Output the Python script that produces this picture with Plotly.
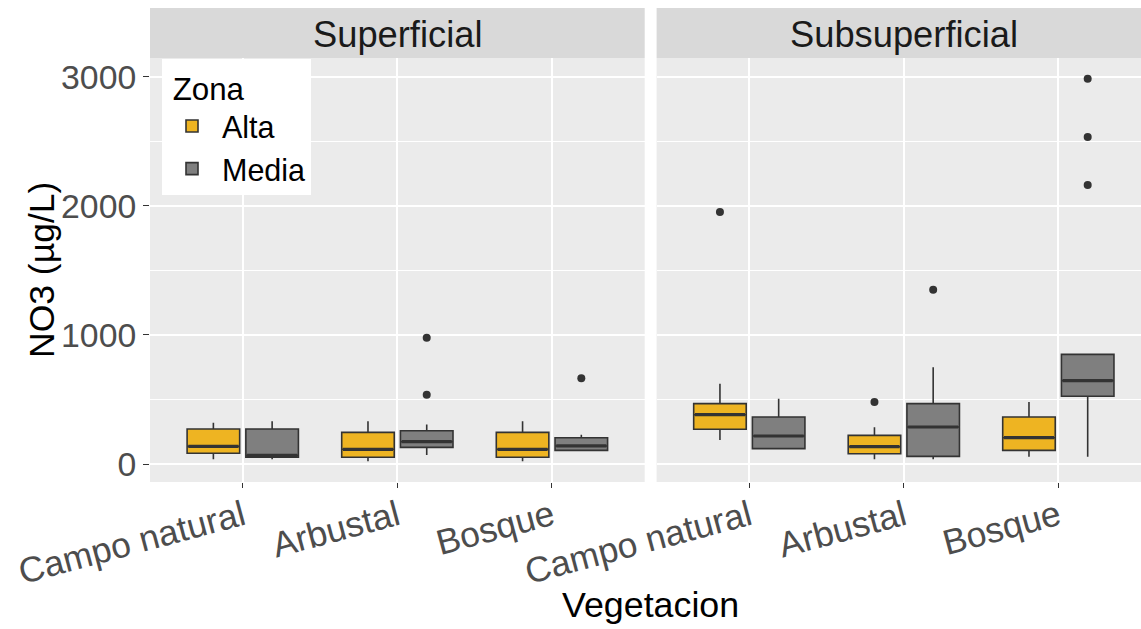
import plotly.graph_objects as go

# ---------------- data ----------------
categories = ["Campo natural", "Arbustal", "Bosque"]
zones = ["Alta", "Media"]
panels = ["Superficial", "Subsuperficial"]
y_ticks = [0, 1000, 2000, 3000]

# Superficial - Alta
sup_alta_q1 = [83, 52, 52]
sup_alta_med = [137, 114, 114]
sup_alta_q3 = [271, 245, 245]
sup_alta_lo = [36, 21, 21]
sup_alta_hi = [320, 331, 331]
sup_alta_out = [[], [], []]

# Superficial - Media
sup_media_q1 = [52, 129, 106]
sup_media_med = [67, 173, 140]
sup_media_q3 = [271, 258, 204]
sup_media_lo = [36, 70, 106]
sup_media_hi = [331, 307, 227]
sup_media_out = [[], [979, 537], [664]]

# Subsuperficial - Alta
sub_alta_q1 = [269, 80, 106]
sub_alta_med = [382, 134, 204]
sub_alta_q3 = [468, 222, 364]
sub_alta_lo = [186, 36, 57]
sub_alta_hi = [623, 284, 481]
sub_alta_out = [[1953], [481], []]

# Subsuperficial - Media
sub_media_q1 = [119, 59, 525]
sub_media_med = [217, 287, 646]
sub_media_q3 = [364, 468, 850]
sub_media_lo = [119, 36, 57]
sub_media_hi = [506, 749, 850]
sub_media_out = [[], [1351], [2987, 2535, 2163]]

# ---------------- styling ----------------
FONT = "Liberation Sans, Arial, sans-serif"
colors = {"Alta": "#EEB422", "Media": "#7F7F7F"}
offsets = {"Alta": -0.19, "Media": 0.19}
BOX_W = 0.34
EDGE = "#333333"

data = {
    ("Superficial", "Alta"): (sup_alta_q1, sup_alta_med, sup_alta_q3, sup_alta_lo, sup_alta_hi, sup_alta_out),
    ("Superficial", "Media"): (sup_media_q1, sup_media_med, sup_media_q3, sup_media_lo, sup_media_hi, sup_media_out),
    ("Subsuperficial", "Alta"): (sub_alta_q1, sub_alta_med, sub_alta_q3, sub_alta_lo, sub_alta_hi, sub_alta_out),
    ("Subsuperficial", "Media"): (sub_media_q1, sub_media_med, sub_media_q3, sub_media_lo, sub_media_hi, sub_media_out),
}

fig = go.Figure()
axes = {"Superficial": ("x", "y"), "Subsuperficial": ("x2", "y2")}

for p in panels:
    xa, ya = axes[p]
    for z in zones:
        q1, med, q3, lo, hi, outs = data[(p, z)]
        pos = [i + 1 + offsets[z] for i in range(len(categories))]
        fig.add_trace(go.Box(
            x=pos, q1=q1, median=med, q3=q3, lowerfence=lo, upperfence=hi,
            width=BOX_W, fillcolor=colors[z], line=dict(color=EDGE, width=1.6),
            whiskerwidth=0, boxpoints=False, name=z, legendgroup=z,
            showlegend=(p == "Superficial"), xaxis=xa, yaxis=ya, hoverinfo="skip",
        ))
        # thicker median lines (ggplot style)
        mx, my = [], []
        for x0, m in zip(pos, med):
            mx += [x0 - BOX_W / 2 + 0.008, x0 + BOX_W / 2 - 0.008, None]
            my += [m, m, None]
        fig.add_trace(go.Scatter(x=mx, y=my, mode="lines", line=dict(color=EDGE, width=3.2),
                                 showlegend=False, xaxis=xa, yaxis=ya, hoverinfo="skip"))
        # outliers
        ox, oy = [], []
        for x0, o in zip(pos, outs):
            for v in o:
                ox.append(x0)
                oy.append(v)
        if ox:
            fig.add_trace(go.Scatter(x=ox, y=oy, mode="markers",
                                     marker=dict(color=EDGE, size=8),
                                     showlegend=False, xaxis=xa, yaxis=ya, hoverinfo="skip"))

# ---------------- layout ----------------
L, R, T, B = 150, 0, 8, 147
W, H = 1141, 629
pw = W - L - R
ph = H - T - B
ydom_top = (482 - 58) / ph

xcommon = dict(
    tickvals=[1, 2, 3], ticktext=categories, tickangle=-15,
    showgrid=True, gridcolor="white", gridwidth=1.6,
    ticks="outside", ticklen=5, tickwidth=1.3, tickcolor=EDGE,
    ticklabelstandoff=-6,
    tickfont=dict(family=FONT, size=35.5, color="#4D4D4D"),
    zeroline=False, showline=False,
)
ycommon = dict(
    range=[-139.5, 3147], tickvals=y_ticks,
    showgrid=True, gridcolor="white", gridwidth=1.6,
    minor=dict(tickvals=[500, 1500, 2500], showgrid=True, gridcolor="white", gridwidth=0.8, ticks=""),
    zeroline=False, showline=False, domain=[0, ydom_top],
)

fig.update_layout(
    width=W, height=H,
    margin=dict(l=L, r=R, t=T, b=B),
    paper_bgcolor="white", plot_bgcolor="#EBEBEB",
    font=dict(family=FONT),
    xaxis=dict(domain=[0, 494.7 / pw], range=[0.4, 3.6], anchor="y", **xcommon),
    xaxis2=dict(domain=[(656.6 - L) / pw, 1], range=[0.4, 3.535], anchor="y2", **xcommon),
    yaxis=dict(anchor="x", ticks="outside", ticklen=6, tickwidth=1.3, tickcolor=EDGE,
               tickfont=dict(family=FONT, size=33.8, color="#4D4D4D"), **ycommon),
    yaxis2=dict(anchor="x2", matches="y", showticklabels=False, ticks="", **ycommon),
    showlegend=True,
    legend=dict(
        x=(162 - L) / pw, y=(482 - 59) / ph, xanchor="left", yanchor="top",
        bgcolor="white", borderwidth=0, itemwidth=50,
        font=dict(family=FONT, size=30.5, color="black"),
        title=dict(text="&nbsp;Zona", font=dict(family=FONT, size=31.3, color="black")),
        tracegroupgap=0,
    ),
    shapes=[
        dict(type="rect", xref="x domain", yref="paper", x0=0, x1=1, y0=ydom_top, y1=1,
             fillcolor="#D9D9D9", line=dict(width=0), layer="below"),
        dict(type="rect", xref="x2 domain", yref="paper", x0=0, x1=1, y0=ydom_top, y1=1,
             fillcolor="#D9D9D9", line=dict(width=0), layer="below"),
    ],
    annotations=[
        dict(text=panels[0], xref="x", yref="paper", x=2, y=(482 - 35) / ph,
             showarrow=False, xanchor="center", yanchor="middle",
             font=dict(family=FONT, size=36.3, color="#1A1A1A")),
        dict(text=panels[1], xref="x2", yref="paper", x=2, y=(482 - 35) / ph,
             showarrow=False, xanchor="center", yanchor="middle",
             font=dict(family=FONT, size=36.3, color="#1A1A1A")),
        dict(text="NO3 (µg/L)", xref="paper", yref="paper", x=(42 - L) / pw, y=(482 - 270) / ph,
             showarrow=False, xanchor="center", yanchor="middle", textangle=-90,
             font=dict(family=FONT, size=35.5, color="black")),
        dict(text="Vegetacion", xref="paper", yref="paper", x=(650 - L) / pw, y=(482 - 605) / ph,
             showarrow=False, xanchor="center", yanchor="middle",
             font=dict(family=FONT, size=35.8, color="black")),
    ],
)

fig.write_html("out.html")
